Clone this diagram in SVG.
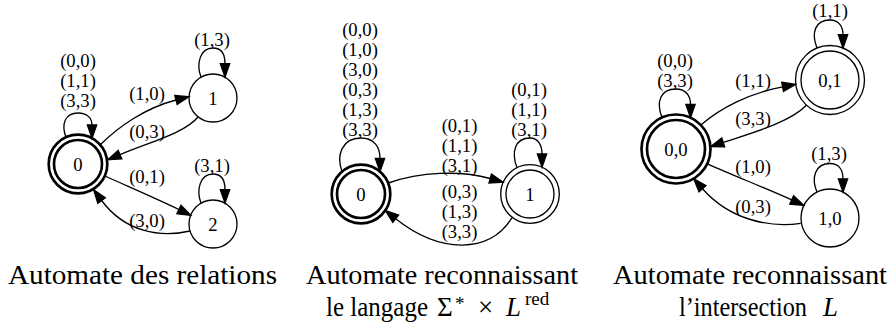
<svg xmlns="http://www.w3.org/2000/svg" width="893" height="329" viewBox="0 0 893 329">
<style>
.e{fill:none;stroke:#000;stroke-width:1.33;marker-end:url(#arr)}
.t{font-family:"Liberation Serif","Times New Roman",serif;font-size:18.67px;text-anchor:middle;fill:#000}
.n{fill:none;stroke:#000;stroke-width:1.33}
.b{fill:none;stroke:#000;stroke-width:2.67}
.cap{font-family:"Liberation Serif","Times New Roman",serif;font-size:27px;fill:#000}
</style>
<defs>
<marker id="arr" markerUnits="userSpaceOnUse" markerWidth="16" markerHeight="12" viewBox="-1 -6 16 12" refX="0" refY="0" orient="auto">
<path d="M0,-4.67 L13.3,0 L0,4.67 Z" fill="#000" stroke="#000" stroke-width="1.33"/>
</marker>
</defs>
<rect width="893" height="329" fill="#fff"/>

<!-- Graph 1 -->
<g id="g1-n0"><circle class="b" cx="78" cy="164" r="24"/><circle class="b" cx="78" cy="164" r="29.3"/><text class="t" x="78" y="170.5">0</text></g>
<g id="g1-n1"><circle class="n" cx="213" cy="98" r="24"/><text class="t" x="213" y="104.5">1</text></g>
<g id="g1-n2"><circle class="n" cx="213" cy="224" r="24"/><text class="t" x="213" y="230.5">2</text></g>
<g id="g1-edges">
<path class="e" d="M66,137.3 C61,124 65,113 78,113 C87,113 92,118 92,125"/>
<text class="t" x="78" y="66.5">(0,0)</text><text class="t" x="78" y="86.5">(1,1)</text><text class="t" x="78" y="106.5">(3,3)</text>
<path class="e" d="M201,77 C196,64 200,48 213,48 C222,48 225,55 225,63.7"/>
<text class="t" x="212" y="45.5">(1,3)</text>
<path class="e" d="M201,203 C196,190 200,174 213,174 C222,174 225,181 225,189.7"/>
<text class="t" x="212" y="171.5">(3,1)</text>
<path class="e" d="M100,145 C118,127 145,108 176,100"/>
<text class="t" x="147" y="99.5">(1,0)</text>
<path class="e" d="M198,117 C185,133 150,142 120,154.6"/>
<text class="t" x="147" y="137.5">(0,3)</text>
<path class="e" d="M105,176 C127,186 155,198 178.9,209.5"/>
<text class="t" x="147" y="182.5">(0,1)</text>
<path class="e" d="M190,231 C160,238 125,232 101.6,200.5"/>
<text class="t" x="147" y="226.5">(3,0)</text>
</g>

<!-- Graph 2 -->
<g id="g2-n0"><circle class="b" cx="361" cy="194" r="24"/><circle class="b" cx="361" cy="194" r="29.3"/><text class="t" x="361" y="200.5">0</text></g>
<g id="g2-n1"><circle class="n" cx="530" cy="194" r="24"/><circle class="n" cx="530" cy="194" r="29.3"/><text class="t" x="530" y="200.5">1</text></g>
<g id="g2-edges">
<path class="e" d="M342,171.7 C336,155 342,138 361,138 C374,138 380,147 380,158.4"/>
<text class="t" x="360" y="35.5">(0,0)</text><text class="t" x="360" y="55.5">(1,0)</text><text class="t" x="360" y="75.5">(3,0)</text>
<text class="t" x="360" y="95.5">(0,3)</text><text class="t" x="360" y="115.5">(1,3)</text><text class="t" x="360" y="135.5">(3,3)</text>
<path class="e" d="M517,167.8 C511,152 515,138 530,138 C538,138 542,145 542,154"/>
<text class="t" x="529" y="95.5">(0,1)</text><text class="t" x="529" y="115.5">(1,1)</text><text class="t" x="529" y="135.5">(3,1)</text>
<path class="e" d="M388.3,183 C420,172 460,170 490.2,178.5"/>
<text class="t" x="459.5" y="131.5">(0,1)</text><text class="t" x="459.5" y="151.5">(1,1)</text><text class="t" x="459.5" y="171.5">(3,1)</text>
<path class="e" d="M512,217.7 C490,254 440,254 395.7,218.8"/>
<text class="t" x="459.5" y="198">(0,3)</text><text class="t" x="459.5" y="218">(1,3)</text><text class="t" x="459.5" y="238">(3,3)</text>
</g>

<!-- Graph 3 -->
<g id="g3-n00"><circle class="b" cx="676" cy="149" r="29"/><circle class="b" cx="676" cy="149" r="34.5"/><text class="t" x="676" y="155.5">0,0</text></g>
<g id="g3-n01"><circle class="n" cx="830" cy="80" r="29"/><circle class="n" cx="830" cy="80" r="34.5"/><text class="t" x="830" y="86.5">0,1</text></g>
<g id="g3-n10"><circle class="n" cx="830" cy="218" r="29"/><text class="t" x="830" y="224.5">1,0</text></g>
<g id="g3-edges">
<path class="e" d="M662,117.5 C656,102 660,89 676,89 C686,89 690.5,96 690.5,104.3"/>
<text class="t" x="675" y="66.5">(0,0)</text><text class="t" x="675" y="86.5">(3,3)</text>
<path class="e" d="M817,48 C811,33 815,20 830,20 C839,20 843,27 843,34.7"/>
<text class="t" x="830" y="16.5">(1,1)</text>
<path class="e" d="M817,192.1 C811,178 815,163.5 830,163.5 C839,163.5 843,170 843,178.8"/>
<text class="t" x="829" y="159.5">(1,3)</text>
<path class="e" d="M700.9,125.1 C720,108 750,93 782.6,86.8"/>
<text class="t" x="753" y="86.5">(1,1)</text>
<path class="e" d="M806.4,105.2 C790,122 755,132 723.2,142.4"/>
<text class="t" x="753" y="124.5">(3,3)</text>
<path class="e" d="M707.2,163.8 C735,176 765,188 791.7,199.9"/>
<text class="t" x="753" y="172.5">(1,0)</text>
<path class="e" d="M800.7,223.3 C770,228 730,220 702.5,188.7"/>
<text class="t" x="753" y="212.5">(0,3)</text>
</g>

<!-- Captions -->
<g id="captions">
<text class="cap" x="8" y="284" textLength="269" lengthAdjust="spacingAndGlyphs">Automate des relations</text>
<text class="cap" x="306" y="284" textLength="272" lengthAdjust="spacingAndGlyphs">Automate reconnaissant</text>
<text class="cap"><tspan x="326" y="316" textLength="102" lengthAdjust="spacingAndGlyphs">le langage</tspan><tspan x="437" y="316">Σ</tspan><tspan x="455" y="310" font-size="19">*</tspan><tspan x="478" y="316">×</tspan><tspan x="506" y="316" font-style="italic">L</tspan><tspan x="525" y="305" font-size="19">red</tspan></text>
<text class="cap" x="613" y="284" textLength="274" lengthAdjust="spacingAndGlyphs">Automate reconnaissant</text>
<text class="cap"><tspan x="679" y="316" textLength="128" lengthAdjust="spacingAndGlyphs">l’intersection</tspan><tspan x="823" y="316" font-style="italic">L</tspan></text>
</g>
</svg>
